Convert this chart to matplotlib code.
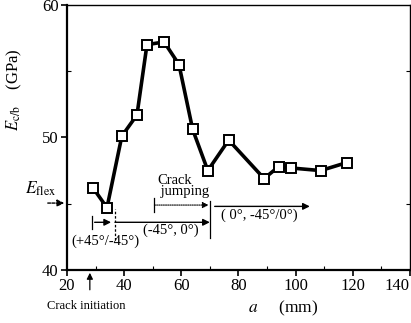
import matplotlib
matplotlib.use("Agg")
import matplotlib.pyplot as plt

plt.rcParams['font.family'] = ['Liberation Serif', 'DejaVu Serif']
plt.rcParams['mathtext.fontset'] = 'stix'

# crack length a (mm) and E_c/b (GPa)
a_mm = [29.1, 34.0, 39.2, 44.5, 48.0, 54.0, 59.2, 64.0, 69.3, 76.6, 89.0, 94.1, 98.3, 108.8, 117.9]
E_cb = [46.2, 44.7, 50.1, 51.7, 57.0, 57.2, 55.5, 50.6, 47.5, 49.8, 46.9, 47.8, 47.7, 47.5, 48.1]

x_ticks = [20, 40, 60, 80, 100, 120, 140]
y_ticks = [40, 50, 60]
E_flex = 45.05
crack_init = 28.0

fig = plt.figure(figsize=(4.11, 3.23), dpi=100)
ax = fig.add_axes([0.163, 0.164, 0.834, 0.821])

ax.plot(a_mm, E_cb, color='black', lw=2.6, marker='s', ms=6.5,
        mfc='white', mec='black', mew=1.4, zorder=3)

ax.set_xlim(20, 140)
ax.set_ylim(40, 60)
ax.set_xticks(x_ticks)
ax.set_yticks(y_ticks)
ax.set_xticks(range(30, 140, 20), minor=True)
ax.set_yticks([45, 55], minor=True)
ax.tick_params(which='major', direction='out', length=4, width=1.2, labelsize=12, pad=2)
ax.tick_params(which='minor', direction='in', length=3, width=0.8, right=True)
for s in ['left', 'bottom']:
    ax.spines[s].set_linewidth(1.6)
for s in ['top', 'right']:
    ax.spines[s].set_linewidth(1.0)
# keep the last tick label inside the figure
ax.get_xticklabels()[-1].set_horizontalalignment('right')

ax.set_ylabel(r'$E_{\rm c/b}$    (GPa)', fontsize=12)
ax.yaxis.set_label_coords(-0.125, 0.68)
ax.set_xlabel(r'$a$     (mm)', fontsize=12.5)
ax.xaxis.set_label_coords(0.63, -0.11)

# E_flex arrow on the left
ax.annotate('', xy=(20, E_flex), xytext=(12.3, E_flex), xycoords='data',
            arrowprops=dict(arrowstyle='-|>', ls=(0, (2, 1)), color='black', lw=1.0,
                            mutation_scale=10), annotation_clip=False)
ax.text(5.3, 46.1, r'$E_{\rm flex}$', fontsize=12.5, ha='left', va='center', clip_on=False)

# crack initiation
ax.annotate('', xy=(crack_init, 40), xytext=(crack_init, 38.3),
            arrowprops=dict(arrowstyle='-|>', color='black', lw=0.9, mutation_scale=9),
            annotation_clip=False)
ax.text(26.8, 37.25, 'Crack initiation', fontsize=9, ha='center', va='center',
        clip_on=False)

# ply interface ranges
y1 = 43.6
ax.plot([28.7, 28.7], [43.1, 44.1], color='black', lw=0.9)
ax.annotate('', xy=(36.4, y1), xytext=(28.7, y1),
            arrowprops=dict(arrowstyle='-|>', color='black', lw=1.0, mutation_scale=10))
ax.plot([36.8, 36.8], [42.3, 44.6], color='black', lw=0.9, ls=(0, (2, 1.5)))
ax.annotate('', xy=(70.0, y1), xytext=(36.8, y1),
            arrowprops=dict(arrowstyle='-|>', color='black', lw=1.0, mutation_scale=10,
                            shrinkA=0, shrinkB=0))
ax.plot([70.0, 70.0], [42.4, 45.2], color='black', lw=0.9)
ax.text(33.3, 42.2, '(+45°/-45°)', fontsize=10.5, ha='center', va='center')
ax.text(56.5, 43.0, '(-45°, 0°)', fontsize=10.5, ha='center', va='center')

y2 = 44.9
ax.plot([50.6, 50.6], [44.4, 45.4], color='black', lw=0.9)
ax.annotate('', xy=(69.6, y2), xytext=(50.6, y2),
            arrowprops=dict(arrowstyle='-|>', color='black', lw=0.8, mutation_scale=9,
                            ls=(0, (1, 1)), shrinkA=0, shrinkB=0))
ax.text(51.5, 46.3, 'Crack\n jumping', fontsize=10.5, ha='left', va='center', linespacing=0.8)

y3 = 44.8
ax.annotate('', xy=(105.0, y3), xytext=(71.7, y3),
            arrowprops=dict(arrowstyle='-|>', color='black', lw=1.0, mutation_scale=10,
                            shrinkA=0, shrinkB=0))
ax.text(87.5, 44.1, '( 0°, -45°/0°)', fontsize=10.5, ha='center', va='center')

fig.savefig('out.png', dpi=100)
